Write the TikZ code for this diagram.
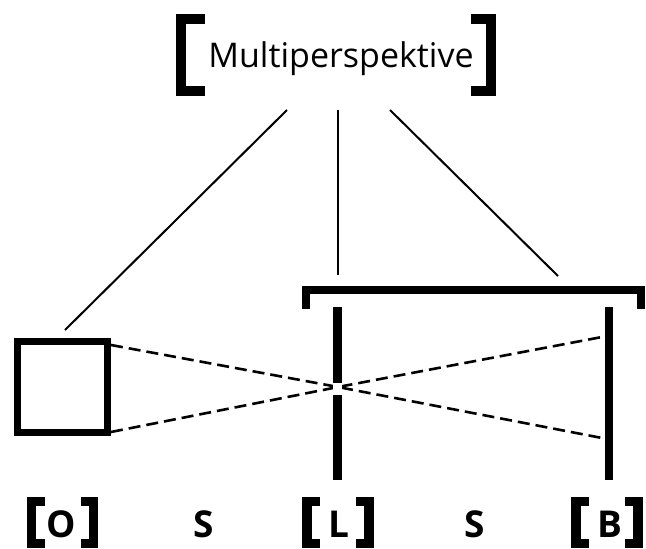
\documentclass[tikz,border=0pt]{standalone}
\usepackage{fontspec}
\setmainfont{Open Sans}
\begin{document}
\begin{tikzpicture}[x=1pt,y=-1pt,
  conn/.style={line width=2pt},
  thick bar/.style={line width=8.5pt},
  brk/.style={line width=9.5pt, miter limit=10},
  dashline/.style={line width=2.6pt, dash pattern=on 12pt off 6pt},
  lbl/.style={inner sep=0pt, anchor=base, font=\fontsize{37}{42}\selectfont\bfseries},
  sqbox/.style={draw, line width=7pt, minimum width=90pt, minimum height=91pt, inner sep=0pt}]
\useasboundingbox (0,0) rectangle (646,549);
% top node
\node[inner sep=0pt, anchor=base, font=\fontsize{34}{40}\selectfont] (top) at (341,67) {Multiperspektive};
\draw[brk] (205,19) -- (181,19) -- (181,91) -- (205,91);
\draw[brk] (471,19) -- (491,19) -- (491,91) -- (471,91);
% connector endpoints
\coordinate (t1) at (287,110);
\coordinate (t2) at (338,110);
\coordinate (t3) at (390,110);
\coordinate (e1) at (65,330);
\coordinate (e2) at (338,275);
\coordinate (e3) at (558,276);
\draw[conn] (t1) -- (e1);
\draw[conn] (t2) -- (e2);
\draw[conn] (t3) -- (e3);
% right bracket over L and B
\draw[line width=8pt] (305.5,309) -- (305.5,290) -- (640.5,290) -- (640.5,309);
% square
\node[sqbox] (sq) at (62.5,387) {};
\coordinate (sqa) at (111,345);
\coordinate (sqb) at (111,432);
\coordinate (x) at (338,387);
\coordinate (ba) at (602,337);
\coordinate (bb) at (602,438);
\draw[dashline] (sqa) -- (x) -- (bb);
\draw[dashline] (sqb) -- (x) -- (ba);
% bars
\draw[thick bar] (337.5,307) -- (337.5,383);
\draw[thick bar] (337.5,395) -- (337.5,480);
\fill[white] (333,383) rectangle (342,395);
\draw[thick bar] (609,307) -- (609,480);
% bottom labels
\node[lbl] (O) at (61,537) {O};
\node[lbl] (S1) at (204,537) {S};
\node[lbl] (L) at (339,537) {L};
\node[lbl] (S2) at (475,537) {S};
\node[lbl] (B) at (610,537) {B};
\foreach \c in {62.5,338,607}{
  \draw[brk] (\c-18,501.5) -- (\c-31,501.5) -- (\c-31,543.5) -- (\c-18,543.5);
  \draw[brk] (\c+18,501.5) -- (\c+31,501.5) -- (\c+31,543.5) -- (\c+18,543.5);
}
\end{tikzpicture}
\end{document}
